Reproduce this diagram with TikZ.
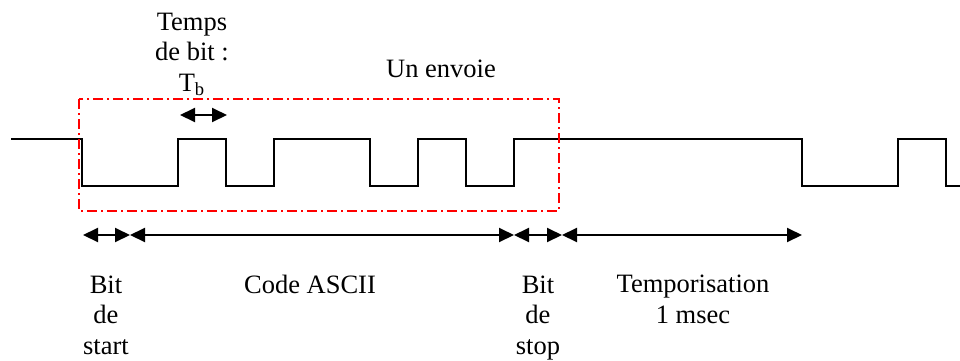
\documentclass[tikz,border=0pt]{standalone}
\usepackage{fontspec}
\setmainfont{Liberation Serif}
\usetikzlibrary{arrows.meta}
\begin{document}
\begin{tikzpicture}[x=0.5pt,y=-0.5pt,
  sig/.style={line width=1.1pt,line join=miter},
  envoi/.style={draw=red,line width=1.2pt,dash pattern=on 5pt off 2pt on 1pt off 2pt},
  dimarrow/.style={line width=1pt,{Triangle[length=7.5pt,width=7pt]}-{Triangle[length=7.5pt,width=7pt]}},
  lbl/.style={font=\fontsize{13.25pt}{15.25pt}\selectfont,align=center,anchor=base,inner sep=0pt}]
\useasboundingbox (0,0) rectangle (960,360);
% signal
\draw[sig] (11,139) -- (82,139) -- (82,186) -- (178,186) -- (178,139) -- (226,139) -- (226,186)
  -- (274,186) -- (274,139) -- (370,139) -- (370,186) -- (418,186) -- (418,139) -- (466,139)
  -- (466,186) -- (514,186) -- (514,139) -- (802,139) -- (802,186) -- (898,186) -- (898,139)
  -- (946,139) -- (946,186) -- (960,186);
% frame "Un envoie"
\draw[envoi] (79,99) rectangle (559,211);
% coordinates
\coordinate (tb0) at (180,115);
\coordinate (tb1) at (227,115);
\coordinate (b0) at (83,235);
\coordinate (b1) at (130,235);
\coordinate (b2) at (514,235);
\coordinate (b3) at (562,235);
\coordinate (b4) at (802,235);
% arrows
\draw[dimarrow] (tb0) -- (tb1);
\draw[dimarrow] (b0) -- (b1);
\draw[dimarrow] (b1) -- (b2);
\draw[dimarrow] (b2) -- (b3);
\draw[dimarrow] (b3) -- (b4);
% labels (anchor base = baseline of the last line)
\node[lbl] (ttemps) at (192,91) {Temps\\de bit :\\T\textsubscript{b}};
\node[lbl] (tenvoi) at (441,77) {Un envoie};
\node[lbl] (tstart) at (106,354) {Bit\\de\\start};
\node[lbl] (tascii) at (310,293) {Code ASCII};
\node[lbl] (tstop) at (538,354) {Bit\\de\\stop};
\node[lbl] (ttempo) at (693,323) {Temporisation\\1 msec};
\end{tikzpicture}
\end{document}
